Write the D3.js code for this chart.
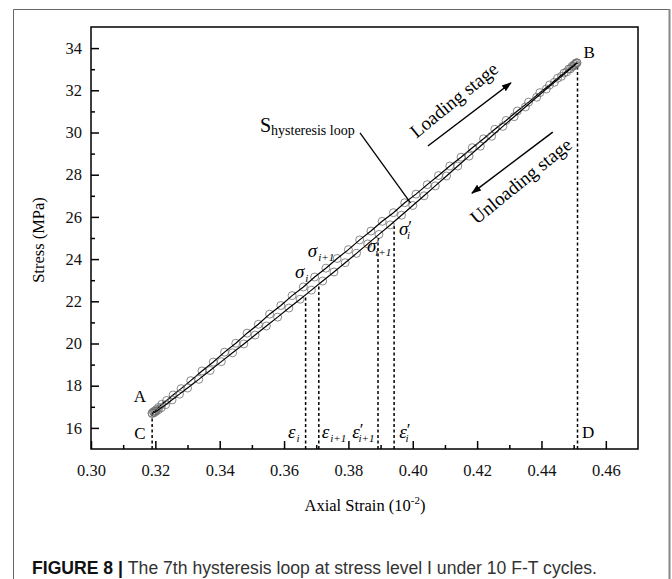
<!DOCTYPE html>
<html>
<head>
<meta charset="utf-8">
<script src="https://cdn.jsdelivr.net/npm/d3@7"></script>
<style>
  body { margin: 0; background: #fff; }
  svg text { font-family: "Liberation Serif", "Times New Roman", serif; }
</style>
</head>
<body>
<script>
// upper branch (loading side of the loop)
var loadStrain = [0.3190,0.3194,0.3199,0.3204,0.3210,0.3220,0.3235,0.3255,0.3280,0.3310,0.3345,0.3380,0.3415,0.3450,0.3485,0.3520,0.3555,0.3590,0.3625,0.3660,0.3695,0.3730,0.3765,0.3800,0.3835,0.3870,0.3905,0.3940,0.3975,0.4010,0.4045,0.4080,0.4115,0.4150,0.4185,0.4220,0.4255,0.4290,0.4325,0.4360,0.4395,0.4425,0.4450,0.4470,0.4485,0.4495,0.4502,0.4507,0.4510];
var loadStress = [16.70,16.77,16.80,16.88,16.97,17.12,17.30,17.56,17.86,18.24,18.70,19.12,19.59,20.01,20.49,20.91,21.39,21.80,22.27,22.68,23.15,23.57,24.03,24.45,24.91,25.33,25.79,26.20,26.67,27.08,27.53,27.96,28.41,28.83,29.28,29.70,30.15,30.57,31.02,31.44,31.89,32.25,32.57,32.82,33.01,33.14,33.22,33.28,33.31];

// lower branch (unloading side of the loop)
var unloadStrain = [0.3190,0.3196,0.3202,0.3209,0.3218,0.3232,0.3252,0.3275,0.3300,0.3335,0.3370,0.3405,0.3440,0.3475,0.3510,0.3545,0.3580,0.3615,0.3650,0.3685,0.3720,0.3755,0.3790,0.3825,0.3860,0.3895,0.3930,0.3965,0.4000,0.4035,0.4070,0.4105,0.4140,0.4175,0.4210,0.4245,0.4280,0.4315,0.4350,0.4385,0.4415,0.4440,0.4462,0.4478,0.4490,0.4499,0.4505,0.4510];
var unloadStress = [16.68,16.72,16.78,16.85,16.95,17.10,17.33,17.60,17.89,18.30,18.72,19.14,19.56,19.98,20.40,20.83,21.25,21.68,22.10,22.53,22.96,23.39,23.83,24.27,24.72,25.17,25.62,26.08,26.54,27.00,27.47,27.94,28.41,28.88,29.35,29.82,30.29,30.75,31.21,31.67,32.06,32.38,32.66,32.87,33.02,33.14,33.22,33.30];

// axis ticks
var xTickVals = [0.30,0.32,0.34,0.36,0.38,0.40,0.42,0.44,0.46];
var xTickLabels = ["0.30","0.32","0.34","0.36","0.38","0.40","0.42","0.44","0.46"];
var xMinor = [0.31,0.33,0.35,0.37,0.39,0.41,0.43,0.45];
var yTickVals = [16,18,20,22,24,26,28,30,32,34];
var yTickLabels = ["16","18","20","22","24","26","28","30","32","34"];
var yMinor = [17,19,21,23,25,27,29,31,33];

// dashed guide lines: strain, and stress where they stop
var guideStrain = [0.3190,0.3667,0.3708,0.3892,0.3942,0.4512];
var guideStress = [16.70,22.30,22.80,24.90,25.70,33.30];

var W = 672, H = 579;
var svg = d3.select("body").append("svg")
  .attr("width", W).attr("height", H);

// outer figure frame
svg.append("line").attr("x1", 13.5).attr("y1", 9.5).attr("x2", 13.5).attr("y2", H)
  .attr("stroke", "#666").attr("stroke-width", 1);
svg.append("line").attr("x1", 13.5).attr("y1", 9.5).attr("x2", 670).attr("y2", 9.5)
  .attr("stroke", "#666").attr("stroke-width", 1);
svg.append("line").attr("x1", 669.5).attr("y1", 9).attr("x2", 669.5).attr("y2", H)
  .attr("stroke", "#888").attr("stroke-width", 2);

var pLeft = 91, pRight = 638, pTop = 27, pBottom = 449;
var x = d3.scaleLinear().domain([0.30, 0.47]).range([pLeft, pRight]);
var y = d3.scaleLinear().domain([15, 35]).range([pBottom, pTop]);

// plot frame
svg.append("rect").attr("x", pLeft).attr("y", pTop)
  .attr("width", pRight - pLeft).attr("height", pBottom - pTop)
  .attr("fill", "none").attr("stroke", "#000").attr("stroke-width", 1.5);

// axes (ticks point inward)
var gx = svg.append("g").attr("transform", "translate(0," + pBottom + ")");
gx.call(d3.axisBottom(x).tickValues(xTickVals).tickSize(-8).tickPadding(15)
  .tickFormat(function (d, i) { return xTickLabels[i]; }));
var gxm = svg.append("g").attr("transform", "translate(0," + pBottom + ")");
gxm.call(d3.axisBottom(x).tickValues(xMinor).tickSize(-4).tickFormat(""));

var gy = svg.append("g").attr("transform", "translate(" + pLeft + ",0)");
gy.call(d3.axisLeft(y).tickValues(yTickVals).tickSize(-8).tickPadding(9)
  .tickFormat(function (d, i) { return yTickLabels[i]; }));
var gym = svg.append("g").attr("transform", "translate(" + pLeft + ",0)");
gym.call(d3.axisLeft(y).tickValues(yMinor).tickSize(-4).tickFormat(""));

svg.selectAll(".domain").remove();
svg.selectAll(".tick line").attr("stroke", "#000").attr("stroke-width", 1.5);
svg.selectAll(".tick text")
  .attr("font-family", "Liberation Serif, serif")
  .attr("font-size", 16.5).attr("fill", "#111");

// axis titles
svg.append("text")
  .attr("transform", "translate(44,240) rotate(-90)")
  .attr("text-anchor", "middle").attr("font-size", 16.5)
  .text("Stress (MPa)");
var xt = svg.append("text").attr("x", 365).attr("y", 511)
  .attr("text-anchor", "middle").attr("font-size", 16.5);
xt.append("tspan").text("Axial Strain (10");
xt.append("tspan").attr("font-size", 11).attr("dy", -7).text("-2");
xt.append("tspan").attr("dy", 7).text(")");

// dashed guides
svg.selectAll(".guide")
  .data(guideStrain)
  .enter().append("line")
  .attr("class", "guide")
  .attr("x1", function (d) { return x(d); })
  .attr("x2", function (d) { return x(d); })
  .attr("y1", y(15))
  .attr("y2", function (d, i) { return y(guideStress[i]); })
  .attr("stroke", "#000").attr("stroke-width", 1.5)
  .attr("stroke-dasharray", "3,2.5");

// loop curves
var line = d3.line()
  .x(function (d) { return x(d[0]); })
  .y(function (d) { return y(d[1]); });

var upper = loadStrain.map(function (d, i) { return [d, loadStress[i]]; });
var lower = unloadStrain.map(function (d, i) { return [d, unloadStress[i]]; });

[upper, lower].forEach(function (pts) {
  svg.append("g").selectAll("circle")
    .data(pts)
    .enter().append("circle")
    .attr("cx", function (d) { return x(d[0]); })
    .attr("cy", function (d) { return y(d[1]); })
    .attr("r", 4)
    .attr("fill", "none")
    .attr("stroke", "#6d6d6d")
    .attr("stroke-width", 0.8);
  svg.append("path").datum(pts)
    .attr("d", line)
    .attr("fill", "none")
    .attr("stroke", "#000")
    .attr("stroke-width", 1.2);
});

// point letters
function letter(t, sx, sy) {
  svg.append("text").attr("x", x(sx)).attr("y", y(sy))
    .attr("text-anchor", "middle").attr("font-size", 17).text(t);
}
letter("A", 0.3152, 17.23);
letter("C", 0.3152, 15.47);
letter("B", 0.4548, 33.55);
letter("D", 0.4545, 15.52);

// greek symbols with subscripts
function symbol(ch, prime, sub, sx, sy) {
  var t = svg.append("text").attr("x", x(sx)).attr("y", y(sy))
    .attr("font-size", 19).attr("font-style", "italic");
  t.append("tspan").text(ch);
  if (prime) {
    t.append("tspan").attr("font-style", "normal").attr("font-size", 17)
      .attr("dx", 0).attr("dy", -3).text("\u2032");
    t.append("tspan").attr("font-size", 11).attr("dx", -5).attr("dy", 7).text(sub);
  } else {
    t.append("tspan").attr("font-size", 11).attr("dx", 1).attr("dy", 4).text(sub);
  }
}
symbol("\u03c3", false, "i", 0.3634, 23.10);
symbol("\u03c3", false, "i+1", 0.3674, 24.10);
symbol("\u03c3", true, "i+1", 0.3858, 24.34);
symbol("\u03c3", true, "i", 0.3957, 25.14);
symbol("\u03b5", false, "i", 0.3612, 15.52);
symbol("\u03b5", false, "i+1", 0.3717, 15.52);
symbol("\u03b5", true, "i+1", 0.3812, 15.52);
symbol("\u03b5", true, "i", 0.3958, 15.52);

// S hysteresis loop label and leader
var st = svg.append("text").attr("x", x(0.3525)).attr("y", y(30.03)).attr("font-size", 20);
st.append("tspan").text("S");
st.append("tspan").attr("font-size", 14).attr("dy", 3).text("hysteresis loop");
svg.append("line")
  .attr("x1", x(0.3836)).attr("y1", y(29.98))
  .attr("x2", x(0.3993)).attr("y2", y(26.67))
  .attr("stroke", "#000").attr("stroke-width", 1.3);

// stage arrows
svg.append("defs").append("marker")
  .attr("id", "head").attr("viewBox", "0 0 10 10")
  .attr("refX", 9).attr("refY", 5)
  .attr("markerWidth", 10).attr("markerHeight", 10)
  .attr("markerUnits", "userSpaceOnUse")
  .attr("orient", "auto")
  .append("path").attr("d", "M0,1.5 L10,5 L0,8.5 Z").attr("fill", "#000");

svg.append("line")
  .attr("x1", x(0.4047)).attr("y1", y(29.36))
  .attr("x2", x(0.4305)).attr("y2", y(32.35))
  .attr("stroke", "#000").attr("stroke-width", 1.5)
  .attr("marker-end", "url(#head)");
svg.append("line")
  .attr("x1", x(0.4435)).attr("y1", y(30.02))
  .attr("x2", x(0.4184)).attr("y2", y(27.13))
  .attr("stroke", "#000").attr("stroke-width", 1.5)
  .attr("marker-end", "url(#head)");

svg.append("text")
  .attr("transform", "translate(458,105) rotate(-39)")
  .attr("text-anchor", "middle").attr("font-size", 19)
  .text("Loading stage");
svg.append("text")
  .attr("transform", "translate(525,186) rotate(-39)")
  .attr("text-anchor", "middle").attr("font-size", 19)
  .text("Unloading stage");

// caption
var cap = svg.append("text").attr("x", 32).attr("y", 574)
  .attr("font-size", 17.6)
  .style("font-family", "'Liberation Sans', Arial, sans-serif");
cap.append("tspan").attr("font-weight", "bold").attr("fill", "#111").text("FIGURE 8 | ");
cap.append("tspan").attr("fill", "#333")
  .text("The 7th hysteresis loop at stress level I under 10 F-T cycles.");
</script>
</body>
</html>
